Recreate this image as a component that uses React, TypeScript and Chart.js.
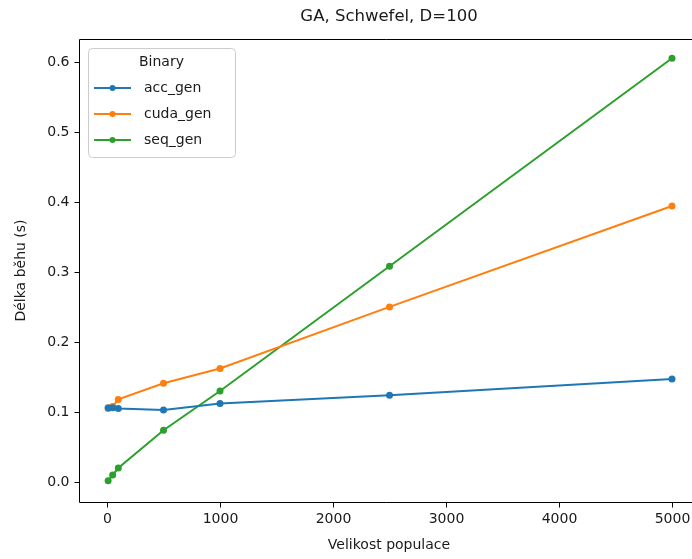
import React, { useEffect, useRef } from "react";
import { Chart, registerables } from "chart.js";

Chart.register(...registerables);

const TITLE = "GA, Schwefel, D=100";
const X_LABEL = "Velikost populace";
const Y_LABEL = "Délka běhu (s)";
const LEGEND_TITLE = "Binary";

const populations = [10, 50, 100, 500, 1000, 2500, 5000];
const accGen = [0.106, 0.106, 0.105, 0.103, 0.112, 0.124, 0.147];
const cudaGen = [0.105, 0.108, 0.118, 0.141, 0.162, 0.250, 0.394];
const seqGen = [0.002, 0.010, 0.020, 0.074, 0.130, 0.308, 0.605];

const seriesNames = ["acc_gen", "cuda_gen", "seq_gen"];
const seriesValues = [accGen, cudaGen, seqGen];
const seriesColors = ["#1f77b4", "#ff7f0e", "#2ca02c"];

const xTicks = [0, 1000, 2000, 3000, 4000, 5000];
const yTicks = [0.0, 0.1, 0.2, 0.3, 0.4, 0.5, 0.6];

const FONT = "'DejaVu Sans', sans-serif";
const TEXT = "#1a1a1a";

const overlayPlugin = {
  id: "overlay",
  afterDraw(chart: any) {
    const ctx = chart.ctx;
    const a = chart.chartArea;
    const xs = chart.scales.x;
    const ys = chart.scales.y;
    const L = Math.round(a.left) + 0.5;
    const T = Math.round(a.top) + 0.5;
    const B = Math.round(a.bottom) + 0.5;
    ctx.save();
    // spines (left, top, bottom; the right one lies outside the picture)
    ctx.strokeStyle = "#000";
    ctx.lineWidth = 1;
    ctx.beginPath();
    ctx.moveTo(chart.width + 2, T);
    ctx.lineTo(L, T);
    ctx.lineTo(L, B);
    ctx.lineTo(chart.width + 2, B);
    ctx.stroke();
    // ticks + labels
    ctx.beginPath();
    ctx.font = `14px ${FONT}`;
    ctx.fillStyle = TEXT;
    ctx.textBaseline = "middle";
    ctx.textAlign = "center";
    xTicks.forEach((v) => {
      const px = Math.round(xs.getPixelForValue(v)) + 0.5;
      ctx.moveTo(px, B);
      ctx.lineTo(px, B + 5);
      ctx.fillText(String(v), px, B + 17);
    });
    ctx.textAlign = "right";
    yTicks.forEach((v) => {
      const py = Math.round(ys.getPixelForValue(v)) + 0.5;
      ctx.moveTo(L, py);
      ctx.lineTo(L - 5, py);
      ctx.fillText(v.toFixed(1), L - 10, py);
    });
    ctx.stroke();
    // axis titles
    ctx.textAlign = "center";
    ctx.fillText(X_LABEL, 389, 545);
    ctx.save();
    ctx.translate(21, (a.top + a.bottom) / 2);
    ctx.rotate(-Math.PI / 2);
    ctx.fillText(Y_LABEL, 0, 0);
    ctx.restore();
    // title
    ctx.font = `16.5px ${FONT}`;
    ctx.fillText(TITLE, 389, 17);
    // legend
    const lx = 88, ly = 48, lw = 147, lh = 109;
    ctx.fillStyle = "rgba(255,255,255,0.8)";
    ctx.strokeStyle = "#cccccc";
    ctx.beginPath();
    (ctx as any).roundRect(lx + 0.5, ly + 0.5, lw, lh, 4);
    ctx.fill();
    ctx.stroke();
    ctx.fillStyle = TEXT;
    ctx.font = `14px ${FONT}`;
    ctx.textAlign = "center";
    ctx.fillText(LEGEND_TITLE, lx + lw / 2, 62);
    chart.data.datasets.forEach((ds: any, i: number) => {
      const y = 88 + i * 26;
      ctx.strokeStyle = ds.borderColor;
      ctx.lineWidth = 2;
      ctx.beginPath();
      ctx.moveTo(94, y);
      ctx.lineTo(131, y);
      ctx.stroke();
      ctx.fillStyle = ds.borderColor;
      ctx.beginPath();
      ctx.arc(112.5, y, 3, 0, Math.PI * 2);
      ctx.fill();
      ctx.fillStyle = TEXT;
      ctx.textAlign = "left";
      ctx.fillText(ds.label, 144, y);
    });
    ctx.restore();
  },
};

export default function App() {
  const ref = useRef<HTMLCanvasElement>(null);
  useEffect(() => {
    if (!ref.current) return;
    const chart = new Chart(ref.current, {
      type: "line",
      data: {
        datasets: seriesNames.map((name, i) => ({
          label: name,
          data: populations.map((x, j) => ({ x, y: seriesValues[i][j] })),
          borderColor: seriesColors[i],
          backgroundColor: seriesColors[i],
          borderWidth: 2,
          pointRadius: 3.5,
          pointBorderWidth: 0,
          tension: 0,
          clip: false,
        })),
      },
      options: {
        responsive: false,
        animation: false,
        events: [],
        layout: { autoPadding: false, padding: { top: 39, left: 0, right: 0, bottom: 0 } },
        plugins: { legend: { display: false }, tooltip: { enabled: false } },
        scales: {
          x: {
            type: "linear",
            min: -247.8,
            max: 5177,
            afterFit: (s: any) => { s.height = 57; s.paddingLeft = 0; s.paddingRight = 0; },
            grid: { display: false },
            border: { display: false },
            ticks: { display: false },
          },
          y: {
            type: "linear",
            min: -0.0285,
            max: 0.6325,
            afterFit: (s: any) => { s.width = 79; },
            grid: { display: false },
            border: { display: false },
            ticks: { display: false },
          },
        },
      },
      plugins: [overlayPlugin],
    });
    return () => chart.destroy();
  }, []);
  return (
    <div style={{ position: "fixed", left: 0, top: 0, width: 692, height: 559, overflow: "hidden", background: "#fff" }}>
      <canvas ref={ref} width={692} height={559} style={{ display: "block" }} />
    </div>
  );
}
